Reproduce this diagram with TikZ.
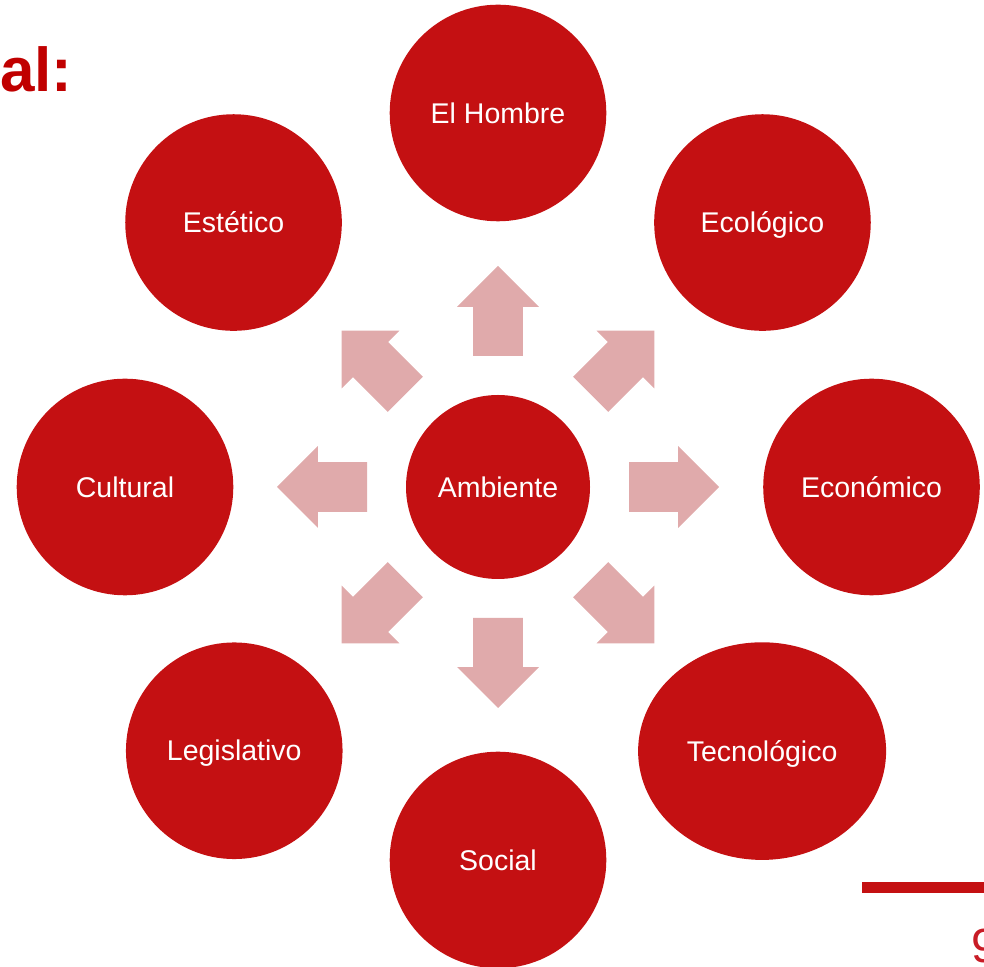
\documentclass[tikz,border=0pt]{standalone}
\usepackage{fontspec}
\setmainfont{Liberation Sans}
\usetikzlibrary{positioning,calc,shapes.geometric}
\definecolor{topicred}{RGB}{196,16,18}
\definecolor{arrowpink}{RGB}{224,170,171}
\definecolor{titlered}{RGB}{192,0,0}
\definecolor{pagered}{RGB}{200,28,38}
\begin{document}
\begin{tikzpicture}[x=1pt,y=1pt]
                    \tikzstyle{every node}=[inner sep=0,outer sep=0]
                    \tikzstyle{topic}=[circle,fill=topicred,minimum size=216.6,text=white,text height=20.4,text depth=0,font=\fontsize{28.5}{34}\selectfont]
                    \tikzstyle{topicwide}=[topic,ellipse,minimum width=248,minimum height=217.6]
                    \tikzstyle{hub}=[topic,minimum size=184]
                    \tikzstyle{spoke}=[fill=arrowpink]
                    \useasboundingbox (0,0) rectangle (984,966);
                    \clip (0,0) rectangle (984,966);
                    {
                        \node[hub] (amb) at (498,479) {Ambiente};

                        \node[topic] (hombre) at ($(amb)+(90:374)$) {El Hombre};
                        \node[topic] (ecol) at ($(amb)+(45:374)$) {Ecológico};
                        \node[topic] (econ) at ($(amb)+(0:373.5)$) {Económico};
                        \node[topicwide] (tecno) at ($(amb)+(-45:373.5)$) {Tecnológico};
                        \node[topic] (social) at ($(amb)+(-90:373)$) {Social};
                        \node[topic] (legis) at ($(amb)+(-135:373)$) {Legislativo};
                        \node[topic] (cult) at ($(amb)+(180:373)$) {Cultural};
                        \node[topic] (estet) at ($(amb)+(135:374)$) {Estético};

                        % block arrows around the hub
                        \foreach \a in {0,45,...,315}
                            \fill[spoke,shift={(amb.center)},rotate=\a]
                                (131,-24.8) -- (180.2,-24.8) -- (180.2,-40.8) -- (221,0)
                                -- (180.2,40.8) -- (180.2,24.8) -- (131,24.8) -- cycle;

                        \node[anchor=base west,text=titlered,font=\bfseries\fontsize{62}{70}\selectfont] (title) at (0,874) {al:};
                        \fill[topicred] (862,73) rectangle (984,84);
                        \node[anchor=north west,text=pagered,font=\fontsize{48}{56}\selectfont] (pagenum) at (971,37) {9};
                    }
                \end{tikzpicture}
\end{document}
